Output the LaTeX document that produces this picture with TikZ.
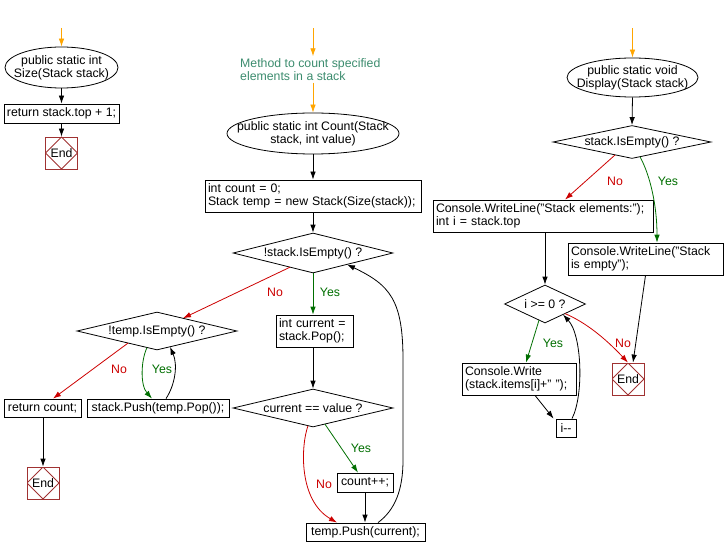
\documentclass[tikz,border=0pt]{standalone}
\usepackage{fontspec}
\setmainfont{Liberation Sans}
\usetikzlibrary{shapes.geometric,arrows.meta,calc}
\definecolor{cred}{RGB}{204,0,0}
\definecolor{cgreen}{RGB}{0,110,0}
\definecolor{corange}{RGB}{255,165,0}
\definecolor{ccmt}{RGB}{60,140,110}
\definecolor{cend}{RGB}{160,50,50}
\tikzset{
 ln/.style={line width=0.8pt},
 arr/.style={ln,-{Latex[length=8pt,width=5.5pt]}},
 blk/.style={arr,black},
 org/.style={arr,corange},
 grn/.style={arr,cgreen},
 rd/.style={arr,cred},
 proc/.style={draw,ln,rectangle,inner sep=2pt,align=left},
 mproc/.style={draw,ln,rectangle,inner xsep=3pt,inner ysep=2pt,align=left},
 ell/.style={draw,ln,ellipse,inner sep=0pt},
 dia/.style={draw,ln,diamond,inner sep=0pt},
 txt/.style={inner sep=0pt,align=center},
 endbox/.style={draw=cend,ln,rectangle,minimum width=32pt,minimum height=32pt,inner sep=0pt,
   path picture={\draw[cend,ln] (path picture bounding box.north) -- (path picture bounding box.east) -- (path picture bounding box.south) -- (path picture bounding box.west) -- cycle;}},
 nolab/.style={text=cred,inner sep=0pt},
 yeslab/.style={text=cgreen,inner sep=0pt}
}
\begin{document}
\begin{tikzpicture}[x=1pt,y=-1pt,every node/.style={font=\fontsize{12.3}{13}\selectfont}]
\useasboundingbox (0,0) rectangle (725,556);
% ---------- left: Size ----------
\coordinate (s1) at (61.5,28);
\node[ell,minimum width=113pt,minimum height=41pt] (sz) at (61.5,67.5) {};
\node[txt] (szt) at (sz) {public static int\\Size(Stack stack)};
\node[proc,minimum width=115pt,minimum height=19pt] (ret1) at (61.5,113.5) {return stack.top + 1;};
\node[endbox] (end1) at (61.5,153) {End};
\draw[org] (s1) -- (sz.north);
\draw[blk] (sz.south) -- (ret1.north);
\draw[blk] (ret1.south) -- (end1.north);
% ---------- middle: Count ----------
\coordinate (s2) at (313,28);
\node[anchor=west,align=left,text=ccmt,inner sep=2pt] (cmt) at (238,69.5) {Method to count specified\\elements in a stack};
\node[ell,minimum width=172pt,minimum height=41pt] (cnt) at (313,133.5) {};
\node[txt] (cntt) at (cnt) {public static int Count(Stack\\stack, int value)};
\node[mproc,text width=210pt,minimum height=32pt] (init) at (313,196) {int count = 0;\\Stack temp = new Stack(Size(stack));};
\node[dia,minimum width=160pt,minimum height=40pt] (d1) at (313,253) {};
\node[txt] (d1t) at (d1) {!stack.IsEmpty() ?};
\node[mproc,text width=71pt,minimum height=32pt] (cur) at (314.5,331) {int current =\\stack.Pop();};
\node[dia,minimum width=160pt,minimum height=38pt] (d2) at (313,408) {};
\node[txt] (d2t) at (d2) {current == value ?};
\node[proc,minimum width=56pt,minimum height=19pt] (cpp) at (365,482.5) {count++;};
\node[proc,minimum width=119pt,minimum height=18pt] (tpush) at (365.5,532) {temp.Push(current);};
\node[dia,minimum width=160pt,minimum height=38pt] (d3) at (157,331) {};
\node[txt] (d3t) at (d3) {!temp.IsEmpty() ?};
\node[proc,minimum width=77pt,minimum height=18pt] (retc) at (42.5,408) {return count;};
\node[endbox] (end2) at (43,483) {End};
\node[proc,minimum width=142pt,minimum height=18pt] (spush) at (158,408) {stack.Push(temp.Pop());};
\draw[org] (s2) -- (s2 |- cmt.north);
\draw[org] (cnt.north |- cmt.south) -- (cnt.north);
\draw[blk] (cnt.south) -- (init.north);
\draw[blk] (init.south) -- (d1.north);
\draw[grn] (d1.south) -- (d1.south |- cur.north);
\draw[blk] (d2.north |- cur.south) -- (d2.north);
\draw[grn] ($(d2.center)+(12,16.2)$) -- ($(cpp.north)+(-7,0)$);
\draw[blk] (cpp.south) -- (cpp.south |- tpush.north);
\draw[rd] ($(d2.center)+(-5,17.8)$) .. controls (301,445) and (298,500) .. ($(tpush.north)+(-28.5,0)$);
\draw[blk] ($(tpush.north)+(12.5,0)$) .. controls (395,510) and (403,490) .. (403,460) -- (403,360) .. controls (403,300) and (390,285) .. ($(d1.center)+(34,11.5)$);
\draw[rd] ($(d1.center)+(-23,14.2)$) -- ($(d3.center)+(26,-12.8)$);
\draw[rd] ($(d3.center)+(-29,12.1)$) -- ($(retc.north)+(10.5,0)$);
\draw[blk] (end2.north |- retc.south) -- (end2.north);
\draw[grn] ($(d3.center)+(-10,16.6)$) .. controls (141,360) and (140,385) .. ($(spush.north)+(-6,0)$);
\draw[blk] ($(spush.north)+(8,0)$) .. controls (175,385) and (178,365) .. ($(d3.center)+(13,15.9)$);
\node[nolab] (l1) at (275,292) {No};
\node[yeslab] (l2) at (330,292) {Yes};
\node[nolab] (l3) at (119,369) {No};
\node[yeslab] (l4) at (162,369) {Yes};
\node[yeslab] (l5) at (361,448) {Yes};
\node[nolab] (l6) at (324,484) {No};
% ---------- right: Display ----------
\coordinate (s3) at (632.5,28);
\node[ell,minimum width=131pt,minimum height=39pt] (disp) at (632.5,77.5) {};
\node[txt] (dispt) at (disp) {public static void\\Display(Stack stack)};
\node[dia,minimum width=158pt,minimum height=33pt] (d4) at (632,142) {};
\node[txt] (d4t) at (d4) {stack.IsEmpty() ?};
\node[mproc,text width=214pt,minimum height=32pt] (wl1) at (543,216) {Console.WriteLine("Stack elements:");\\int i = stack.top};
\node[mproc,text width=149pt,minimum height=32pt] (wl2) at (645.5,259) {Console.WriteLine("Stack\\is empty");};
\node[dia,minimum width=81pt,minimum height=38pt] (d5) at (545,304) {};
\node[txt] (d5t) at (d5) {i >= 0 ?};
\node[mproc,text width=108pt,minimum height=32pt] (cw) at (519,379) {Console.Write\\(stack.items[i]+" ");};
\node[proc,minimum width=20pt,minimum height=18pt,inner sep=1pt] (idec) at (566,428) {i-{}-};
\node[endbox] (end3) at (628,379) {End};
\draw[org] (s3) -- (disp.north);
\draw[blk] (disp.south) -- (d4.north);
\draw[rd] ($(d4.center)+(-17,13)$) -- ($(wl1.north)+(22,0)$);
\draw[grn] ($(d4.center)+(8,14.8)$) .. controls (650,175) and (657,205) .. ($(wl2.north)+(11.5,0)$);
\draw[blk] (d5.north |- wl1.south) -- (d5.north);
\draw[grn] ($(d5.center)+(-6,16.2)$) -- ($(cw.north)+(7,0)$);
\draw[blk] ($(cw.south)+(16,0)$) -- ($(idec.north west)+(-2,0)$);
\draw[blk] ($(idec.north)+(6,0)$) .. controls (584,395) and (582,335) .. ($(d5.center)+(18,10.6)$);
\draw[rd] ($(d5.center)+(20,9.6)$) .. controls (585,322) and (605,338) .. (end3.north);
\draw[blk] (wl2.south) -- ($(end3.north)+(5,0)$);
\node[nolab] (l7) at (615,181) {No};
\node[yeslab] (l8) at (668,181) {Yes};
\node[yeslab] (l9) at (553,343) {Yes};
\node[nolab] (l10) at (623,343) {No};
\end{tikzpicture}
\end{document}
